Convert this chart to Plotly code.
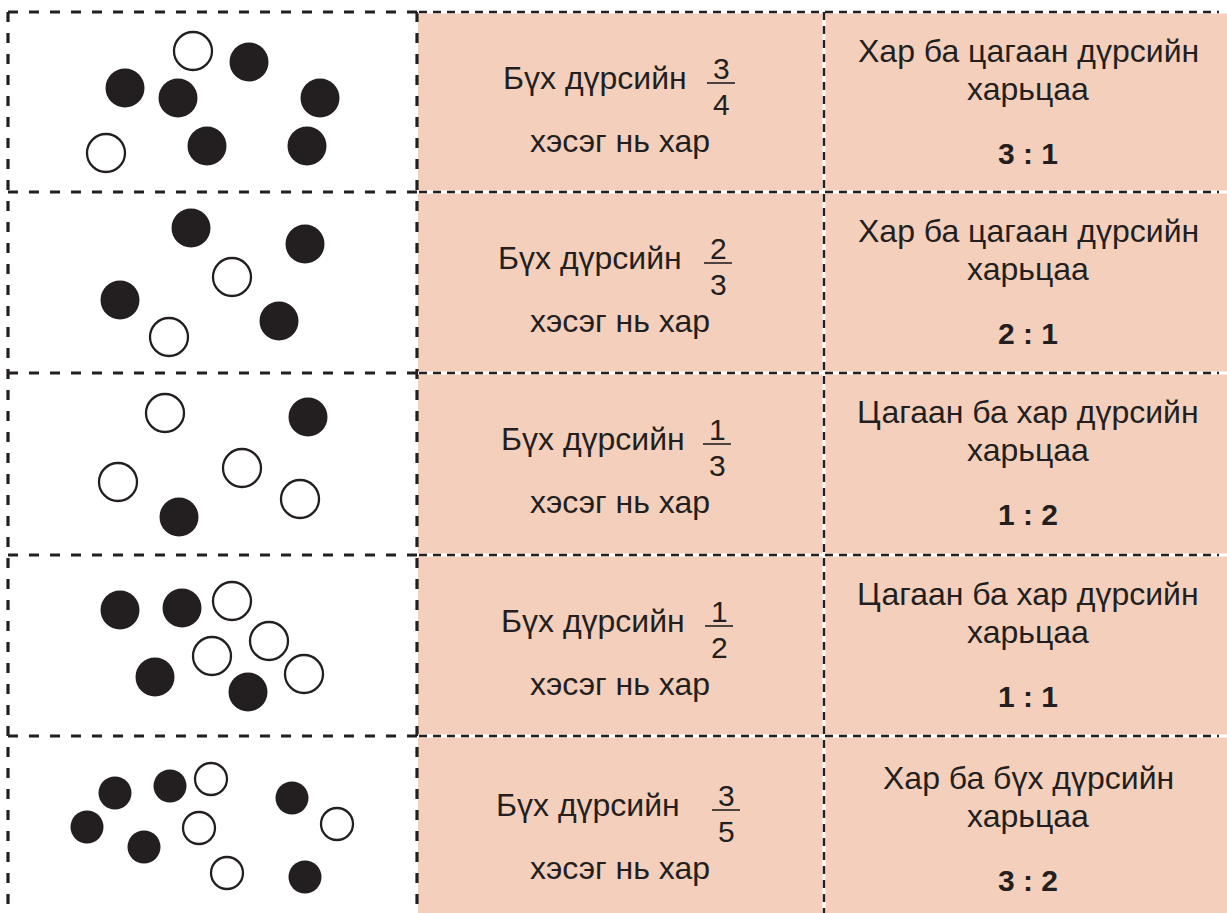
import plotly.graph_objects as go

# ---------------- data ----------------
frac_num = [3, 2, 1, 1, 3]
frac_den = [4, 3, 3, 2, 5]
ratio_title = ["Хар ба цагаан дүрсийн", "Хар ба цагаан дүрсийн",
               "Цагаан ба хар дүрсийн", "Цагаан ба хар дүрсийн",
               "Хар ба бүх дүрсийн"]
ratio_a = [3, 2, 1, 1, 3]
ratio_b = [1, 1, 2, 1, 2]
prefix_text = "Бүх дүрсийн"
suffix_text = "хэсэг нь хар"
ratio_word = "харьцаа"

# circle centres per row (pixel coordinates of the picture)
black_x = [[249, 125, 178, 320, 207, 307], [191, 305, 120, 279], [308, 179],
           [120, 182, 155, 248], [115, 170, 292, 87, 144, 305]]
black_y = [[62, 88, 98, 98, 146, 146], [228, 244, 300, 321], [417, 517],
           [610, 608, 677, 692], [793, 786, 798, 827, 847, 877]]
white_x = [[193, 106], [232, 169], [165, 242, 118, 300],
           [232, 269, 212, 304], [211, 199, 337, 227]]
white_y = [[51, 153], [277, 337], [413, 468, 482, 499],
           [601, 641, 656, 674], [779, 828, 824, 873]]

# ---------------- layout constants ----------------
W, H = 1227, 913
row_top = [12, 192, 373, 555, 736]
text_shift = [0, 0, 0, 0, 3]
x_left, x_c1, x_c2, x_right = 8, 417, 824, 1227
pink = "#F4D0BC"
ink = "#231F20"
FONT = "Liberation Sans, Arial, sans-serif"

prefix_cx = [595, 590, 593, 593, 588]
frac_cx = [721, 718, 717, 719, 726]
col2_cx = 620
col3_cx = 1028
circle_size = [39, 39, 39, 39, 33]

fig = go.Figure()

shapes = []
# pink background of columns 2 and 3
shapes.append(dict(type="rect", xref="x", yref="y", x0=x_c1 + 1, x1=x_right,
                   y0=row_top[0] + 1, y1=H, fillcolor=pink, line=dict(width=0),
                   layer="below"))

dashA = "10px,11px"
dashB = "8px,6px"
# grid lines in pink region: white underlay + black dashes
for y in row_top:
    shapes.append(dict(type="line", xref="x", yref="y", x0=x_c1 + 1, x1=x_right,
                       y0=y, y1=y, line=dict(color="white", width=3)))
shapes.append(dict(type="line", xref="x", yref="y", x0=x_c2, x1=x_c2,
                   y0=row_top[0], y1=H, line=dict(color="white", width=3)))
for y in row_top:
    shapes.append(dict(type="line", xref="x", yref="y", x0=x_c1 + 2, x1=x_right - 8,
                       y0=y, y1=y, line=dict(color=ink, width=2.4, dash=dashB)))
shapes.append(dict(type="line", xref="x", yref="y", x0=x_c2, x1=x_c2,
                   y0=row_top[0], y1=H, line=dict(color=ink, width=2.4, dash=dashB)))

# grid lines of column 1 (drawn as line traces)
for y in row_top:
    fig.add_trace(go.Scatter(x=[x_left, x_c1], y=[y, y], mode="lines",
                             hoverinfo="skip", showlegend=False,
                             line=dict(color=ink, width=3.2, dash=dashA)))
for x in (x_left, x_c1):
    fig.add_trace(go.Scatter(x=[x, x], y=[row_top[0], H], mode="lines",
                             hoverinfo="skip", showlegend=False,
                             line=dict(color=ink, width=3.2, dash=dashA)))

annotations = []
for i in range(5):
    t = row_top[i] + text_shift[i]
    # circles
    fig.add_trace(go.Scatter(
        x=black_x[i], y=black_y[i], mode="markers", hoverinfo="skip",
        marker=dict(size=circle_size[i], color=ink, line=dict(width=0)),
        showlegend=False))
    fig.add_trace(go.Scatter(
        x=white_x[i], y=white_y[i], mode="markers", hoverinfo="skip",
        marker=dict(size=circle_size[i] - 1, color="white",
                    line=dict(width=2.3, color=ink)),
        showlegend=False))
    # column 2 text
    annotations.append(dict(x=prefix_cx[i], y=t + 66, text=prefix_text,
                            font=dict(size=32, color=ink, family=FONT)))
    annotations.append(dict(x=frac_cx[i], y=t + 56, text=str(frac_num[i]),
                            font=dict(size=30, color=ink, family=FONT)))
    annotations.append(dict(x=frac_cx[i], y=t + 92, text=str(frac_den[i]),
                            font=dict(size=30, color=ink, family=FONT)))
    shapes.append(dict(type="line", xref="x", yref="y", x0=frac_cx[i] - 14,
                       x1=frac_cx[i] + 14, y0=t + 71, y1=t + 71,
                       line=dict(color=ink, width=1.6)))
    annotations.append(dict(x=col2_cx, y=t + 129, text=suffix_text,
                            font=dict(size=32, color=ink, family=FONT)))
    # column 3 text
    annotations.append(dict(x=col3_cx, y=t + 39, text=ratio_title[i],
                            font=dict(size=32, color=ink, family=FONT)))
    annotations.append(dict(x=col3_cx, y=t + 77, text=ratio_word,
                            font=dict(size=32, color=ink, family=FONT)))
    annotations.append(dict(x=col3_cx, y=t + 141,
                            text=f"<b>{ratio_a[i]} : {ratio_b[i]}</b>",
                            font=dict(size=30, color=ink, family=FONT)))

for a in annotations:
    a.update(xref="x", yref="y", showarrow=False, xanchor="center", yanchor="middle")

fig.update_layout(
    width=W, height=H, autosize=False,
    margin=dict(l=0, r=0, t=0, b=0, pad=0),
    paper_bgcolor="white", plot_bgcolor="rgba(0,0,0,0)",
    xaxis=dict(range=[0, W], visible=False, fixedrange=True),
    yaxis=dict(range=[H, 0], visible=False, fixedrange=True),
    shapes=shapes, annotations=annotations, showlegend=False,
)

fig.write_html("out.html", config={"displayModeBar": False},
               post_script="document.body.style.margin='0';document.body.style.padding='0';")
